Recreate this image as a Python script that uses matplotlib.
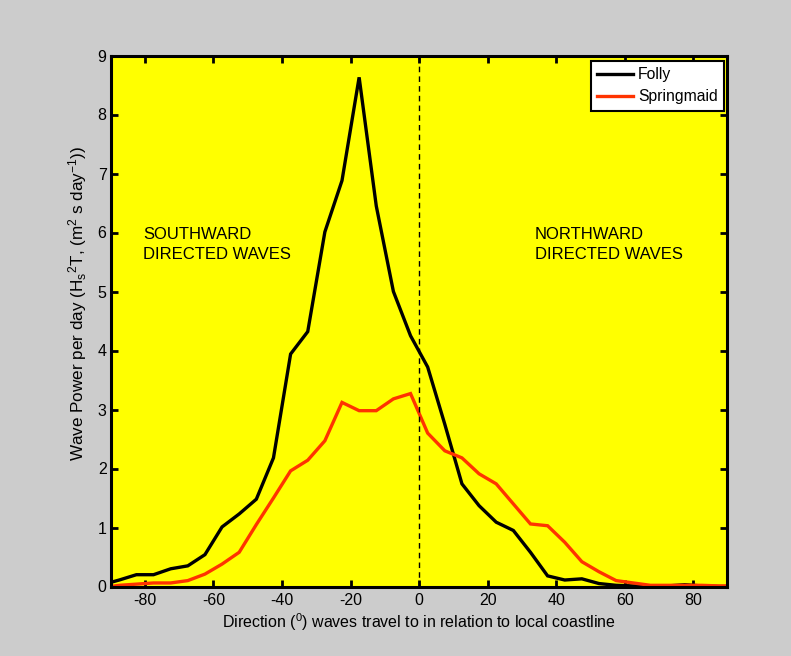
import matplotlib
matplotlib.use("Agg")
import matplotlib.pyplot as plt
import numpy as np

plt.rcParams['font.family'] = ['Liberation Sans', 'DejaVu Sans']
plt.rcParams['mathtext.fontset'] = 'custom'
plt.rcParams['mathtext.rm'] = 'Liberation Sans'
plt.rcParams['mathtext.it'] = 'Liberation Sans'
plt.rcParams['axes.unicode_minus'] = False

direction = [-90, -87.5, -82.5, -77.5, -72.5, -67.5, -62.5, -57.5, -52.5, -47.5, -42.5,
             -37.5, -32.5, -27.5, -22.5, -17.5, -12.5, -7.5, -2.5, 2.5, 7.5,
             12.5, 17.5, 22.5, 27.5, 32.5, 37.5, 42.5, 47.5, 52.5, 57.5,
             62.5, 67.5, 72.5, 77.5, 82.5, 87.5, 90]
folly = [0.07, 0.11, 0.20, 0.20, 0.30, 0.35, 0.54, 1.01, 1.23, 1.48, 2.18,
         3.94, 4.32, 6.01, 6.88, 8.63, 6.45, 5.00, 4.25, 3.72, 2.75,
         1.74, 1.37, 1.09, 0.95, 0.58, 0.18, 0.11, 0.13, 0.05, 0.02,
         0.01, 0.01, 0.01, 0.03, 0.01, 0.00, 0.00]
springmaid = [0.00, 0.02, 0.04, 0.06, 0.06, 0.10, 0.21, 0.38, 0.58, 1.05, 1.50,
              1.96, 2.14, 2.47, 3.12, 2.98, 2.98, 3.18, 3.27, 2.60, 2.30,
              2.18, 1.91, 1.74, 1.40, 1.06, 1.03, 0.75, 0.42, 0.25, 0.10,
              0.06, 0.02, 0.02, 0.02, 0.02, 0.01, 0.01]
xticks = [-80, -60, -40, -20, 0, 20, 40, 60, 80]
yticks = [0, 1, 2, 3, 4, 5, 6, 7, 8, 9]

W, H = 791, 656
fig = plt.figure(figsize=(W / 100, H / 100), dpi=100)
fig.patch.set_facecolor('#cccccc')
left, right, top, bottom = 110.7, 727.5, 55.5, 586.5
ax = fig.add_axes([left / W, 1 - bottom / H, (right - left) / W, (bottom - top) / H])
ax.set_facecolor('#ffff00')

ax.plot(direction, folly, color='black', lw=2.4, label='Folly', solid_joinstyle='miter')
ax.plot(direction, springmaid, color='#ff3300', lw=2.4, label='Springmaid', solid_joinstyle='miter')
ax.axvline(0, color='black', lw=1.0, ls=(0, (4, 3)))

ax.set_xlim(-90, 90)
ax.set_ylim(0, 9)
ax.set_xticks(xticks)
ax.set_yticks(yticks)
ax.tick_params(direction='in', length=5, width=2, top=True, right=True,
               labelsize=11.5, colors='black')
ax.tick_params(axis='y', pad=3)
ax.tick_params(axis='x', pad=5)
for s in ax.spines.values():
    s.set_linewidth(2.2)
    s.set_color('black')

fig.text(419.5 / W, 1 - 628 / H,
         r'Direction ($^{0}$) waves travel to in relation to local coastline',
         fontsize=11.5, ha='center', va='baseline')
fig.text(78 / W, 1 - 303 / H,
         r'Wave Power per day (H$_{s}$$^{2}$T, (m$^{2}$ s day$^{-1}$))',
         fontsize=12.3, ha='center', va='center', rotation=90)

ax.text(-80.5, 5.885, 'SOUTHWARD', fontsize=12, ha='left', va='baseline')
ax.text(-80.5, 5.557, 'DIRECTED WAVES', fontsize=12, ha='left', va='baseline')
ax.text(33.7, 5.885, 'NORTHWARD', fontsize=12, ha='left', va='baseline')
ax.text(33.7, 5.557, 'DIRECTED WAVES', fontsize=12, ha='left', va='baseline')

leg = ax.legend(loc='upper right', bbox_to_anchor=(724 / W, 1 - 61 / H),
                bbox_transform=fig.transFigure, borderaxespad=0,
                fontsize=11.3, frameon=True, fancybox=False,
                edgecolor='black', facecolor='white', framealpha=1,
                handlelength=2.3, borderpad=0.4, labelspacing=0.45,
                handletextpad=0.3)
leg.get_frame().set_linewidth(1.5)

fig.savefig('out.png', dpi=100, facecolor=fig.get_facecolor())
